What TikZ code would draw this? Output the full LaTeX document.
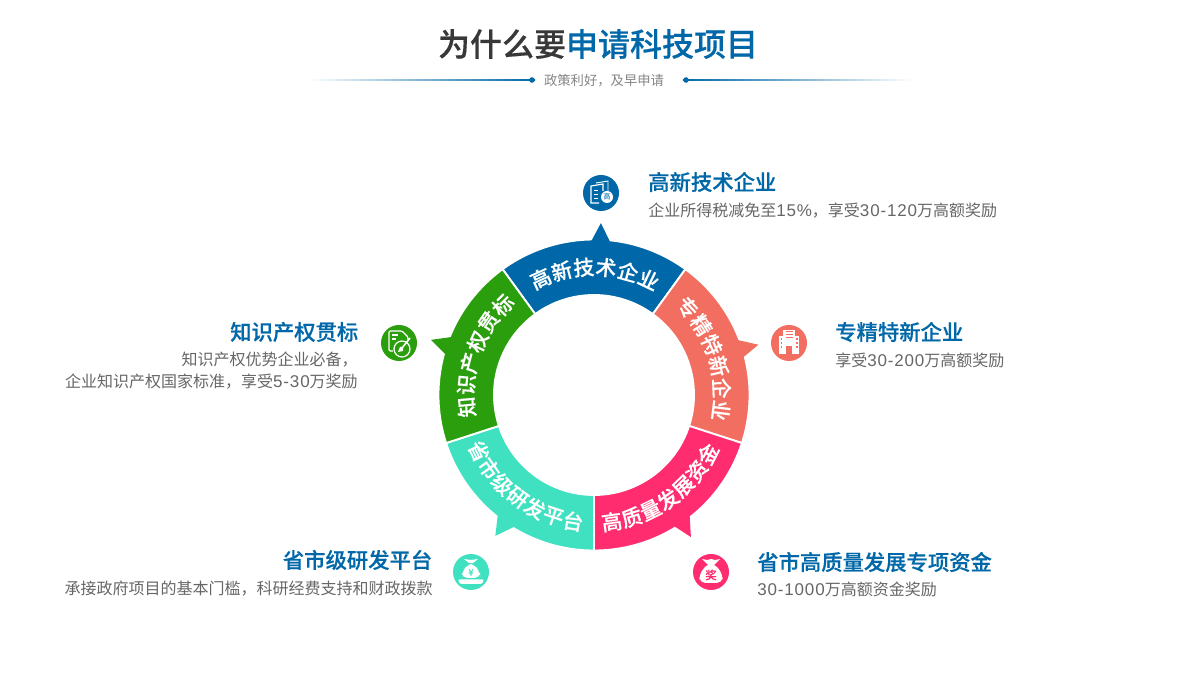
\documentclass[tikz,border=0pt]{standalone}
\usepackage{fontspec}
\usepackage{xcolor}
\setmainfont{Noto Sans CJK SC}
\newfontfamily\medfont[FakeBold=0.4]{Noto Sans CJK SC Medium}
\newfontfamily\numfont[LetterSpace=5]{Liberation Sans}
\newcommand{\numtxt}[1]{{\numfont\fontsize{12.75pt}{16.5pt}\selectfont #1}}
\definecolor{projblue}{RGB}{0,104,168}
\definecolor{projcoral}{RGB}{242,110,96}
\definecolor{projpink}{RGB}{255,45,112}
\definecolor{projteal}{RGB}{63,225,192}
\definecolor{projgreen}{RGB}{43,158,14}
\definecolor{projdark}{RGB}{56,56,56}
\definecolor{projgray}{RGB}{102,102,102}
\tikzset{
  ringchar/.style={text=white,font=\medfont\fontsize{15.5pt}{18pt}\selectfont,inner sep=0pt},
  headtxt/.style={text=projblue,font=\medfont\fontsize{16pt}{18pt}\selectfont,inner sep=0pt},
  desctxt/.style={text=projgray,font=\fontsize{12pt}{16.5pt}\selectfont,inner sep=0pt},
  iconbg/.style={circle,minimum size=27pt,inner sep=0pt},
  ruledot/.style={circle,fill=projblue,minimum size=4.2pt,inner sep=0pt},
}
\begin{document}
\begin{tikzpicture}[x=0.75pt,y=0.75pt]
\useasboundingbox (0,0) rectangle (1200,700);

% ============ title and rule ============
\node[font=\medfont\fontsize{24pt}{28pt}\selectfont,text=projdark,inner sep=0pt] (title) at (598,656)
  {为什么要\textcolor{projblue}{申请科技项目}};
\node[font=\fontsize{10pt}{12pt}\selectfont,text=projgray!80,inner sep=0pt] (subtitle) at (604,619) {政策利好，及早申请};
\node[ruledot] (dotl) at (532,620) {};
\node[ruledot] (dotr) at (686,620) {};
\coordinate (fadel) at (308,619.4);
\coordinate (fader) at (913,620.6);
\shade[left color=white,middle color=projblue,right color=projblue] (fadel) rectangle (dotl.east |- 0,620.6);
\shade[left color=projblue,middle color=projblue,right color=white] (dotr.west |- 0,619.4) rectangle (fader);

% ============ ring ============
\begin{scope}[shift={(594,305)}]
\foreach \a/\b/\c/\ta/\tb/\tc in {%
  54/126/projblue/91/87.7/84,
  -18/54/projcoral/20.9/17/14.2,
  -90/-18/projpink/301.5/304.3/308.4,
  198/270/projteal/231.3/235/238.8,
  126/198/projgreen/157.9/161.3/164.7} {
  \fill[\c,draw=white,line width=1.4pt] (\a:155.5) arc (\a:\b:155.5) -- (\b:100) arc (\b:\a:100) -- cycle;
  \fill[\c] (\ta:150) -- (\ta:154) -- (\tb:172) -- (\tc:154) -- (\tc:150) -- cycle;
}
\fill[white] (0,0) circle (99.5);
% letters along the ring, one node per character
\foreach \nm/\st/\sp/\rt/\txt in {%
  gx/114.6/-10/-90/{高,新,技,术,企,业},
  zj/43/-10/-90/{专,精,特,新,企,业},
  gz/-82/9.1/90/{高,质,量,发,展,资,金},
  sj/206/9.1/90/{省,市,级,研,发,平,台},
  zs/185.4/-10/-90/{知,识,产,权,贯,标}} {
  \foreach \ch [count=\i from 0] in \txt {
    \pgfmathsetmacro\ang{\st+\sp*\i}
    \node[ringchar,rotate=\ang+\rt] (\nm\i) at (\ang:128) {\ch};
  }
}
\end{scope}

% ============ labels ============
\node[headtxt,anchor=west] (gxhead) at (648,518) {高新技术企业};
\node[desctxt,anchor=west] (gxdesc) at (648,489.5) {企业所得税减免至\numtxt{15\%}，享受\numtxt{30-120}万高额奖励};
\node[headtxt,anchor=west] (zjhead) at (835,368) {专精特新企业};
\node[desctxt,anchor=west] (zjdesc) at (835,339.5) {享受\numtxt{30-200}万高额奖励};
\node[headtxt,anchor=west] (gzhead) at (757,138) {省市高质量发展专项资金};
\node[desctxt,anchor=west] (gzdesc) at (757,110.5) {\numtxt{30-1000}万高额资金奖励};
\node[headtxt,anchor=east] (sjhead) at (432.5,140) {省市级研发平台};
\node[desctxt,anchor=east] (sjdesc) at (433,111.5) {承接政府项目的基本门槛，科研经费支持和财政拨款};
\node[headtxt,anchor=east] (zshead) at (358.5,368) {知识产权贯标};
\node[desctxt,anchor=north east,align=right] (zsdesc) at (358,348) {知识产权优势企业必备，\\企业知识产权国家标准，享受\numtxt{5-30}万奖励};

% ============ icons ============
\node[iconbg,fill=projblue] (gxicon) at (601,507) {};
\begin{scope}[shift={(601,507)},draw=white,line width=0.9pt]
  \draw (-2,-10) -- (-10,-10) -- (-10,7) -- (2,9) -- (2,2);
  \draw[line width=0.7pt] (-5,10) -- (7,12) -- (7,2);
  \draw[line width=0.7pt] (-7,3) -- (-3,3) (-7,-1) -- (-3,-1) (-7,-5) -- (-3,-5);
  \fill[white] (6,-4) circle (6);
  \node[text=projblue,font=\fontsize{5.5pt}{6pt}\selectfont,inner sep=0pt] (gxmark) at (6,-4) {高};
\end{scope}

\node[iconbg,fill=projcoral] (zjicon) at (789,357) {};
\begin{scope}[shift={(789,357)}]
  \fill[white] (-6,-11) rectangle (6,13);
  \fill[white] (-10,-11) rectangle (10,7);
  \fill[projcoral] (-3,-11) rectangle (3,-3);
  \foreach \wy in {5,8,11} { \fill[projcoral] (-3.5,\wy-0.5) rectangle (3.5,\wy+0.5); }
  \foreach \wx/\wy in {-8.5/3,-8.5/-1,-8.5/-5,7/3,7/-1,7/-5} { \fill[projcoral] (\wx,\wy) rectangle ++(1.5,1.5); }
\end{scope}

\node[iconbg,fill=projpink] (gzicon) at (711,128) {};
\begin{scope}[shift={(711,128)}]
  \fill[white] (-3,7) -- (-9,13) -- (-4,12) -- (0,13) -- (4,12) -- (9,13) -- (3,7) -- cycle;
  \fill[white,rounded corners=4pt] (-4,8) -- (4,8) -- (12,-3) -- (11,-11) -- (-11,-11) -- (-12,-3) -- cycle;
  \node[text=projpink,font=\medfont\fontsize{8.5pt}{9pt}\selectfont,inner sep=0pt] (gzmark) at (0,-3) {奖};
\end{scope}

\node[iconbg,fill=projteal] (sjicon) at (471,128) {};
\begin{scope}[shift={(471,128)}]
  \fill[white] (-2,9) -- (-7,13) -- (0,12) -- (7,13) -- (2,9) -- cycle;
  \fill[white,rounded corners=4pt] (-3,8) -- (3,8) -- (9,0) -- (9,-6) -- (-9,-6) -- (-9,0) -- cycle;
  \node[text=projteal,font=\medfont\fontsize{6.5pt}{7pt}\selectfont,inner sep=0pt] (sjmark) at (0,-0.5) {¥};
  \fill[white,rounded corners=1pt] (-13,-7.5) -- (13,-7.5) -- (11,-12) -- (-11,-12) -- cycle;
\end{scope}

\node[iconbg,fill=projgreen] (zsicon) at (399,357) {};
\begin{scope}[shift={(399,357)},draw=white,line width=0.9pt]
  \draw[rounded corners=1pt] (-6,-8) -- (-10,-8) -- (-10,12) -- (3,12) -- (9,6) -- (9,3);
  \draw[line width=0.8pt] (-7,8) -- (-1,8) (-7,4) -- (-3,4);
  \draw (3,-6) circle (8);
  \draw[line width=1.2pt] (11,5) -- (3,-5);
  \fill[white] (4,-4) -- (1,-4) -- (-1,-9) -- (4,-8) -- cycle;
\end{scope}
\end{tikzpicture}
\end{document}
